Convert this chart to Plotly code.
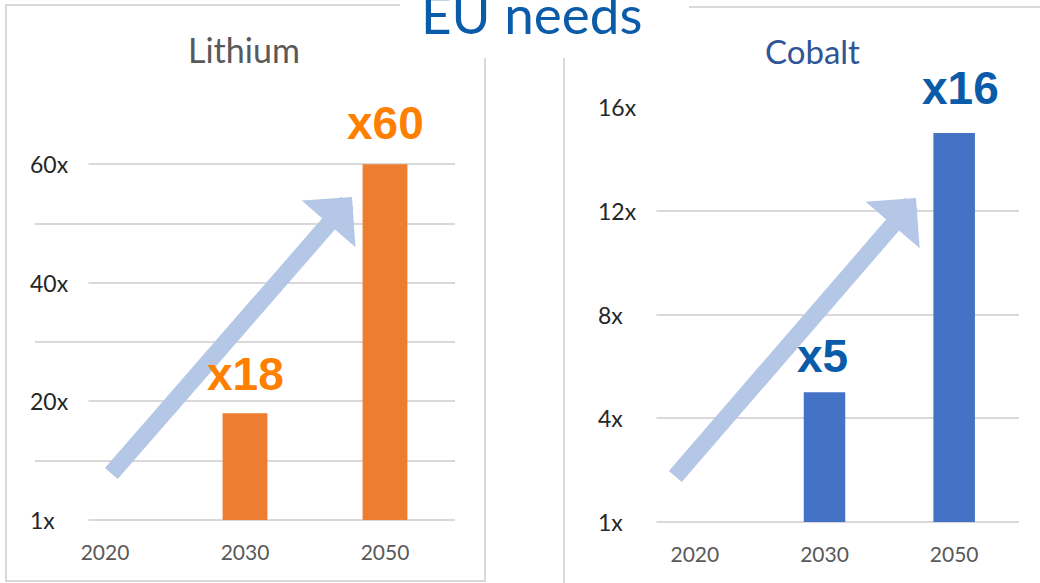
import plotly.graph_objects as go

# ---------------- data ----------------
years = ["2020", "2030", "2050"]
lithium_values = [0, 18, 60]
cobalt_values = [0, 5, 15]
lithium_labels = ["", "x18", "x60"]
cobalt_labels = ["", "x5", "x16"]
lithium_tickvals = [0, 20, 40, 60]
lithium_ticktext = ["1x", "20x", "40x", "60x"]
cobalt_tickvals = [0, 4, 8, 12, 16]
cobalt_ticktext = ["1x", "4x", "8x", "12x", "16x"]

W, H = 1040, 583
xpos = list(range(len(years)))


def px(x):
    return x / W


def py(y):
    return 1 - y / H


GRID = "#D9D9D9"
ORANGE_BAR = "#ED7D31"
BLUE_BAR = "#4472C4"
ORANGE_TXT = "#FF8000"
BLUE_TXT = "#0B5CA8"
ARROW = "#B4C7E7"
BODY = "Lato, Carlito, Calibri, sans-serif"
BOLD = "Liberation Sans, Arial, sans-serif"

fig = go.Figure()
fig.add_trace(go.Bar(x=xpos, y=lithium_values, marker=dict(color=ORANGE_BAR, line=dict(width=0)),
                     width=0.32, xaxis="x", yaxis="y", hoverinfo="skip"))
fig.add_trace(go.Bar(x=xpos, y=cobalt_values, marker=dict(color=BLUE_BAR, line=dict(width=0)),
                     width=0.32, xaxis="x2", yaxis="y2", hoverinfo="skip"))


def xax(domain, anchor):
    return dict(domain=domain, anchor=anchor, type="linear", range=[-0.5, 2.5],
                tickmode="array", tickvals=xpos, ticktext=years,
                showgrid=False, showline=False, zeroline=False, ticks="outside",
                ticklen=14, tickcolor="rgba(0,0,0,0)",
                tickfont=dict(family=BODY, size=21, color="#595959"), fixedrange=True)


def yax(domain, anchor, rng, dtick):
    return dict(domain=domain, anchor=anchor, range=rng, dtick=dtick, showgrid=True,
                gridcolor=GRID, gridwidth=2, zeroline=True, zerolinecolor=GRID,
                zerolinewidth=2, showticklabels=False, ticks="", showline=False,
                fixedrange=True)


fig.update_layout(
    width=W, height=H, margin=dict(l=0, r=0, t=0, b=0, pad=0, autoexpand=False),
    paper_bgcolor="white", plot_bgcolor="white", showlegend=False,
    xaxis=xax([px(35), px(455)], "y"),
    yaxis=yax([py(520), py(105)], "x", [0, 70], 10),
    xaxis2=xax([px(630), px(1019)], "y2"),
    yaxis2=yax([py(522), py(107)], "x2", [0, 16], 4),
)

shapes = [
    dict(type="rect", xref="paper", yref="paper", x0=px(6), x1=px(485), y0=py(5), y1=py(581),
         line=dict(color=GRID, width=2), fillcolor="rgba(0,0,0,0)", layer="below"),
    dict(type="rect", xref="paper", yref="paper", x0=px(564), x1=px(1060), y0=py(7), y1=py(600),
         line=dict(color=GRID, width=2), fillcolor="rgba(0,0,0,0)", layer="below"),
    dict(type="rect", xref="paper", yref="paper", x0=px(400), x1=px(689), y0=py(-10), y1=py(58),
         line=dict(width=0), fillcolor="white", layer="above"),
]
fig.update_layout(shapes=shapes)

ann = []
# tick labels with white background
for v, t in zip(lithium_tickvals, lithium_ticktext):
    ann.append(dict(xref="paper", yref="y", x=px(28), y=v, text=t, showarrow=False, xanchor="left",
                    yanchor="middle", align="left", width=57, bgcolor="white",
                    font=dict(family=BODY, size=23, color="#262626")))
for v, t in zip(cobalt_tickvals, cobalt_ticktext):
    ann.append(dict(xref="paper", yref="y2", x=px(596), y=v, text=t, showarrow=False, xanchor="left",
                    yanchor="middle", align="left", width=57, bgcolor="white",
                    font=dict(family=BODY, size=23, color="#262626")))

# arrows (tip position in paper coords, tail as pixel offset)
ann.append(dict(xref="paper", yref="paper", x=px(352), y=py(197), axref="pixel", ayref="pixel",
                ax=-242, ay=278, showarrow=True, arrowhead=1, arrowsize=0.7, arrowwidth=17,
                arrowcolor=ARROW, text=""))
ann.append(dict(xref="paper", yref="paper", x=px(916), y=py(198), axref="pixel", ayref="pixel",
                ax=-242, ay=280, showarrow=True, arrowhead=1, arrowsize=0.7, arrowwidth=17,
                arrowcolor=ARROW, text=""))

# data labels (small per-label nudges to match the slide)
nudges = {"x18": (0, 11), "x60": (0, 13), "x5": (-2, 8), "x16": (6, 17)}
for xp, v, t in zip(xpos, lithium_values, lithium_labels):
    if t:
        dx, dy = nudges[t]
        ann.append(dict(xref="x", yref="y", x=xp, y=v, text="<b>%s</b>" % t, showarrow=False,
                        yanchor="bottom", yshift=dy, xshift=dx,
                        font=dict(family=BOLD, size=46, color=ORANGE_TXT)))
for xp, v, t in zip(xpos, cobalt_values, cobalt_labels):
    if t:
        dx, dy = nudges[t]
        ann.append(dict(xref="x2", yref="y2", x=xp, y=v, text="<b>%s</b>" % t, showarrow=False,
                        yanchor="bottom", yshift=dy, xshift=dx,
                        font=dict(family=BOLD, size=46, color=BLUE_TXT)))

# titles
ann.append(dict(xref="paper", yref="paper", x=px(244), y=py(50), text="Lithium", showarrow=False,
                xanchor="center", yanchor="middle", font=dict(family=BODY, size=34, color="#595959")))
ann.append(dict(xref="paper", yref="paper", x=px(812), y=py(51), text="Cobalt", showarrow=False,
                xanchor="center", yanchor="middle", font=dict(family=BODY, size=33, color="#2F5597")))
ann.append(dict(xref="paper", yref="paper", x=px(531.5), y=py(13), text="EU needs", showarrow=False,
                xanchor="center", yanchor="middle", font=dict(family=BODY, size=53, color=BLUE_TXT)))

fig.update_layout(annotations=ann)
fig.write_html("out.html", config=dict(displayModeBar=False))
